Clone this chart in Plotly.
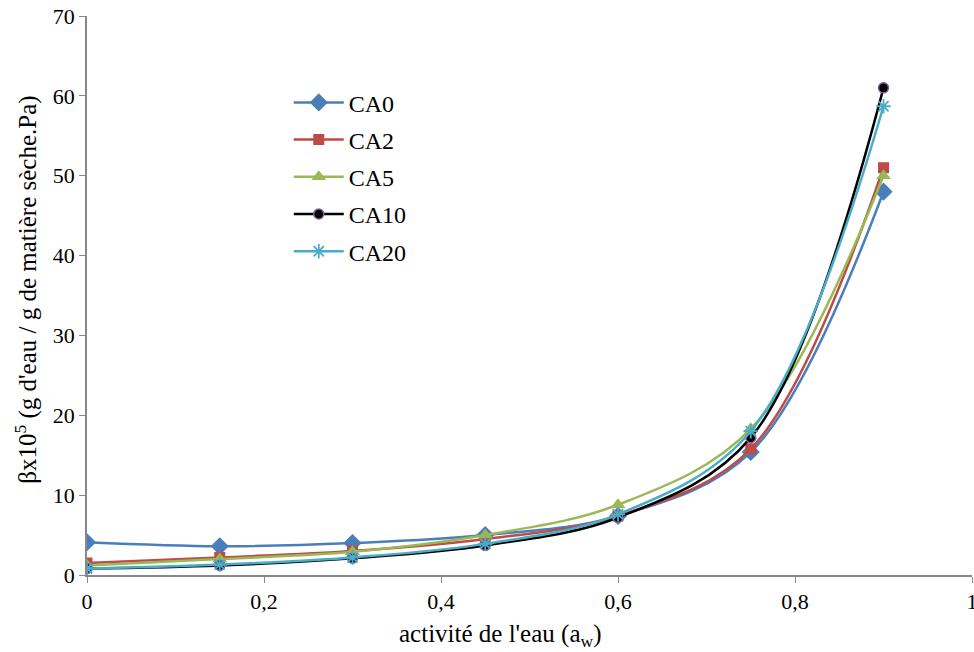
import plotly.graph_objects as go

aw = [0, 0.15, 0.3, 0.45, 0.6, 0.75, 0.9]
ca0 = [4.1, 3.6, 4.0, 5.0, 7.4, 15.4, 48.0]
ca2 = [1.5, 2.2, 3.0, 4.5, 7.4, 15.8, 51.0]
ca5 = [1.2, 2.0, 2.9, 5.0, 8.8, 18.3, 50.0]
ca10 = [0.8, 1.2, 2.1, 3.7, 7.2, 17.2, 61.0]
ca20 = [0.8, 1.3, 2.2, 3.9, 7.6, 18.0, 58.7]

x_title = "activité de l'eau (a<sub>w</sub>)"
y_title = "βx10<sup>5</sup> (g d'eau / g de matière sèche.Pa)"

FONT = "Times New Roman, Liberation Serif, serif"

series = [
    ("CA0", ca0, "#4A7EBB", dict(symbol="diamond", size=14, color="#4A7EBB")),
    ("CA2", ca2, "#BE4B48", dict(symbol="square", size=11, color="#BE4B48")),
    ("CA5", ca5, "#98B954", dict(symbol="triangle-up", size=13, color="#98B954")),
    ("CA10", ca10, "#000000", dict(symbol="circle", size=10, color="#000000",
                                   line=dict(color="#7D60A0", width=1.5))),
    ("CA20", ca20, "#4BACC6", dict(symbol="asterisk-open", size=12,
                                   line=dict(color="#4BACC6", width=1.8))),
]

fig = go.Figure()
for name, vals, col, mk in series:
    fig.add_trace(go.Scatter(
        x=aw, y=vals, name=name, mode="lines+markers",
        line=dict(color=col, width=2.5, shape="spline", smoothing=1.0),
        marker=mk, legendgroup=name,
    ))

fig.update_layout(
    width=974, height=652,
    paper_bgcolor="white", plot_bgcolor="white",
    margin=dict(l=87, r=2, t=16, b=77),
    font=dict(family=FONT, size=22, color="black"),
    separators=", ",
    showlegend=True,
    legend=dict(x=0.228, y=0.885, xanchor="left", yanchor="top",
                bgcolor="rgba(0,0,0,0)", font=dict(family=FONT, size=24),
                tracegroupgap=3, itemwidth=50),
    xaxis=dict(range=[0, 1], dtick=0.2, showgrid=False, zeroline=False,
               showline=True, linecolor="#888888", linewidth=1.5,
               ticks="outside", ticklen=6, tickcolor="#888888",
               automargin=False, ticklabeloverflow="allow",
               tickfont=dict(family=FONT, size=22)),
    yaxis=dict(range=[0, 70], dtick=10, showgrid=False, zeroline=False,
               showline=True, linecolor="#888888", linewidth=1.5,
               ticks="outside", ticklen=6, tickcolor="#888888",
               automargin=False,
               tickfont=dict(family=FONT, size=22)),
    annotations=[
        dict(text=x_title, xref="paper", yref="paper", x=0.467, y=-0.109,
             xanchor="center", yanchor="middle", showarrow=False,
             font=dict(family=FONT, size=25)),
        dict(text=y_title, xref="paper", yref="paper", x=-0.068, y=0.51,
             xanchor="center", yanchor="middle", showarrow=False, textangle=-90,
             font=dict(family=FONT, size=25)),
    ],
)

fig.write_html("out.html", config={"displayModeBar": False},
               post_script="document.body.style.margin='0';document.body.style.overflow='hidden';")
